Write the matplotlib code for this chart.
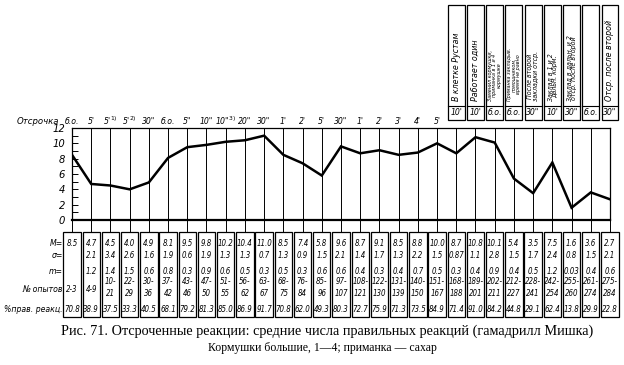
import os
import matplotlib
matplotlib.use("Agg")
import matplotlib.pyplot as plt
from matplotlib import font_manager
from matplotlib.font_manager import FontProperties
from matplotlib.patches import Rectangle
from matplotlib.transforms import blended_transform_factory

# данные (гамадрил Мишка, отсроченные реакции)
delays = ["б.о.", "5'", "5'$^{1)}$", "5'$^{2)}$", '30"', "б.о.", '5"', '10"', '10"$^{3)}$', '20"',
          '30"', "1'", "2'", "5'", '30"', "1'", "2'", "3'", "4'", "5'",
          "10'", "10'", "б.о.", "б.о.", '30"', "10'", '30"', "б.о.", '30"']
M = [8.5, 4.7, 4.5, 4.0, 4.9, 8.1, 9.5, 9.8, 10.2, 10.4, 11.0, 8.5, 7.4, 5.8, 9.6,
     8.7, 9.1, 8.5, 8.8, 10.0, 8.7, 10.8, 10.1, 5.4, 3.5, 7.5, 1.6, 3.6, 2.7]
sigma = ["", "2.1", "3.4", "2.6", "1.6", "1.9", "0.6", "1.9", "1.3", "1.3", "0.7", "1.3", "0.9", "1.5", "2.1",
         "1.4", "1.7", "1.3", "2.2", "1.5", "0.87", "1.1", "2.8", "1.5", "1.7", "2.4", "0.8", "1.5", "2.1"]
m_err = ["", "1.2", "1.4", "1.5", "0.6", "0.8", "0.3", "0.9", "0.6", "0.5", "0.3", "0.5", "0.3", "0.6", "0.6",
         "0.4", "0.3", "0.4", "0.7", "0.5", "0.3", "0.4", "0.9", "0.4", "0.5", "1.2", "0.03", "0.4", "0.6"]
trials = ["2-3", "4-9", "10-21", "22-29", "30-36", "37-42", "43-46", "47-50", "51-55", "56-62",
          "63-67", "68-75", "76-84", "85-96", "97-107", "108-121", "122-130", "131-139", "140-150",
          "151-167", "168-188", "189-201", "202-211", "212-227", "228-241", "242-254", "255-260",
          "261-274", "275-284"]
pct = ["70.8", "38.9", "37.5", "33.3", "40.5", "68.1", "79.2", "81.3", "85.0", "86.9", "91.7", "70.8",
       "62.0", "49.3", "80.3", "72.7", "75.9", "71.3", "73.5", "84.9", "71.4", "91.0", "84.2", "44.8",
       "29.1", "62.4", "13.8", "29.9", "22.8"]
# примечания над последними столбцами
notes = ["В клетке Рустам", "Работает один",
         "Заменил кормушки,\nприманка в 1 и 4\nкормушке",
         "Приманка закладыв.\nпомощником,\nвремя не равно",
         "После второй\nзакладки отср.",
         "Заклад в 1 и 2\nдальн. корм.",
         "Заклад в дальн. и 2\nотср. после второй",
         "", "Отср. после второй"]
first_note = 20

# ищем узкий шрифт среди установленных
files = {os.path.basename(f.fname).lower(): f.fname for f in font_manager.fontManager.ttflist}
narrow = None
for pat in ["liberationsansnarrow-italic", "dejavusanscondensed-oblique", "robotocondensed-italic",
            "notosans-condenseditalic", "liberationsansnarrow-regular", "dejavusanscondensed.",
            "robotocondensed-regular", "notosans-condensed."]:
    hit = [v for k, v in files.items() if k.startswith(pat)]
    if hit:
        narrow = hit[0]
        break
if narrow:
    FP = FontProperties(fname=narrow)
    scale = 1.0
else:
    FP = FontProperties(family="DejaVu Sans", style="italic")
    scale = 0.88
avail = {f.name for f in font_manager.fontManager.ttflist}
SERIF = "Liberation Serif" if "Liberation Serif" in avail else "DejaVu Serif"

W, H = 624, 365
fig = plt.figure(figsize=(W / 100, H / 100), dpi=100)
fig.patch.set_facecolor("white")

def fy(py):
    return 1 - py / H

ax = fig.add_axes([72 / W, fy(220), 538 / W, (220 - 128) / H])
n = len(M)
xs = list(range(n))
ax.set_xlim(0, n - 1)
ax.set_ylim(0, 12)
ax.plot(xs, M, color="black", lw=1.8, solid_joinstyle="miter", zorder=3)
for x in xs:
    ax.axvline(x, color="black", lw=0.7, zorder=1)
for s in ax.spines.values():
    s.set_linewidth(0.9)
ax.spines["bottom"].set_linewidth(1.6)
ax.set_xticks([])
ax.set_yticks(range(0, 13, 2))
ax.set_yticks(range(1, 13, 2), minor=True)
ax.tick_params(axis="y", which="both", direction="in", length=4, width=0.7, pad=5)
ax.set_yticklabels([str(v) for v in range(0, 13, 2)], fontproperties=FP, fontsize=8)

tr = blended_transform_factory(ax.transData, fig.transFigure)
cell = dict(fontproperties=FP, ha="center", va="center", transform=tr, clip_on=False)
cs = 5.7 * scale

# строка «Отсрочка»
fig.text(59 / W, fy(121), "Отсрочка", fontproperties=FP, fontsize=6.8 * scale,
         ha="right", va="center")
for i, lab in enumerate(delays):
    yl = 121 if i < first_note else 113
    ax.text(i, fy(yl), lab, fontsize=6.2 * scale, **cell)

# рамки с примечаниями
for k, txt in enumerate(notes):
    i = first_note + k
    ax.add_patch(Rectangle((i - 0.44, fy(120)), 0.88, (120 - 5) / H, transform=tr,
                           fill=False, lw=0.9, ec="black", clip_on=False))
    ax.plot([i - 0.44, i + 0.44], [fy(106), fy(106)], transform=tr, color="black",
            lw=0.8, clip_on=False)
    if txt:
        nl = txt.count("\n") + 1
        size = {1: 6.3, 2: 5.0, 3: 3.9}[nl] * (scale if nl == 1 else 1)
        ax.text(i, fy(101), txt, rotation=90, fontproperties=FP, fontsize=size,
                ha="center", va="bottom", linespacing=0.9, transform=tr, clip_on=False)

# таблица под графиком
row_y = {"M": 243, "s": 256, "m": 271, "n1": 282, "n2": 293, "n": 289, "p": 310}
for lab, key in [("M=", "M"), ("σ=", "s"), ("m=", "m"), ("№ опытов", "n"), ("%прав. реакц.", "p")]:
    fig.text(63 / W, fy(row_y[key]), lab, fontproperties=FP, fontsize=6.2 * scale,
             ha="right", va="center")
for i in xs:
    ax.plot([i, i], [fy(220), fy(232)], transform=tr, color="black", lw=0.7, clip_on=False)
    ax.add_patch(Rectangle((i - 0.45, fy(317)), 0.9, (317 - 232) / H, transform=tr,
                           fill=False, lw=0.9, ec="black", clip_on=False))
    ax.text(i, fy(row_y["M"]), f"{M[i]:.1f}", fontsize=cs, **cell)
    ax.text(i, fy(row_y["s"]), sigma[i], fontsize=cs, **cell)
    ax.text(i, fy(row_y["m"]), m_err[i], fontsize=cs, **cell)
    a, b = trials[i].split("-")
    if len(trials[i]) <= 4:
        ax.text(i, fy(row_y["n"]), trials[i], fontsize=cs, **cell)
    else:
        ax.text(i, fy(row_y["n1"]), a + "-", fontsize=cs, **cell)
        ax.text(i, fy(row_y["n2"]), b, fontsize=cs, **cell)
    ax.text(i, fy(row_y["p"]), pct[i], fontsize=cs, **cell)

fig.text(327 / W, fy(331), "Рис. 71. Отсроченные реакции: средние числа правильных реакций (гамадрилл Мишка)",
         family=SERIF, fontsize=10.3, ha="center", va="center")
fig.text(322 / W, fy(348), "Кормушки большие, 1—4; приманка — сахар",
         family=SERIF, fontsize=8.5, ha="center", va="center")

fig.savefig("out.png", dpi=100, facecolor="white")
